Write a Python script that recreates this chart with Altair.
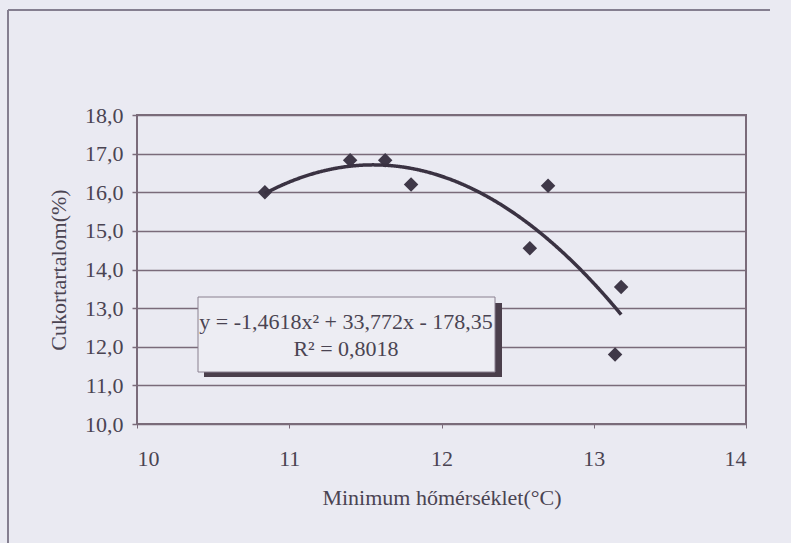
import altair as alt
import pandas as pd

# Minimum temperature (°C) and sugar content (%) of the samples
min_temp = [10.84, 11.40, 11.63, 11.80, 12.58, 12.70, 13.14, 13.18]
sugar = [16.00, 16.83, 16.83, 16.20, 14.55, 16.17, 11.80, 13.55]

# Second-order trend line coefficients (a*x^2 + b*x + c) and fit quality
coef_a, coef_b, coef_c = -1.4618, 33.772, -178.35
r_squared = 0.8018

x_ticks = [10, 11, 12, 13, 14]
y_ticks = [10, 11, 12, 13, 14, 15, 16, 17, 18]

FONT = "Liberation Serif"
INK = "#4a4452"
LINE = "#7a6b7a"
BG = "#eaeaf2"

pts = pd.DataFrame({"x": min_temp, "y": sugar})
one = pd.DataFrame({"k": [0]})  # single row for annotation marks


def hu(v, decimals):
    return f"{v:.{decimals}f}".replace(".", ",")


eq_line1 = f"y = {hu(coef_a, 4)}x² + {hu(coef_b, 3)}x - {hu(-coef_c, 2)}"
eq_line2 = f"R² = {hu(r_squared, 4)}"

x_scale = alt.Scale(domain=[10, 14], nice=False, zero=False)
y_scale = alt.Scale(domain=[10, 18], nice=False, zero=False)

x_axis = alt.Axis(
    values=x_ticks,
    format="d",
    labelOverlap=False,
    title="Minimum hőmérséklet(°C)",
    grid=False,
    domain=False,
    tickSize=4,
    tickColor=LINE,
    labelPadding=20,
    labelFont=FONT,
    labelFontSize=22,
    labelColor=INK,
    titleFont=FONT,
    titleFontSize=22,
    titleFontWeight="normal",
    titleColor=INK,
    titlePadding=18,
)
y_axis = alt.Axis(
    values=y_ticks,
    labelExpr="replace(format(datum.value, '.1f'), '.', ',')",
    labelOverlap=False,
    title="Cukortartalom(%)",
    grid=True,
    gridColor=LINE,
    gridWidth=1.5,
    domain=False,
    tickSize=5,
    tickColor=LINE,
    tickWidth=1.5,
    labelPadding=9,
    labelFont=FONT,
    labelFontSize=22,
    labelColor=INK,
    titleFont=FONT,
    titleFontSize=22,
    titleFontWeight="normal",
    titleColor=INK,
    titlePadding=14,
)

x_enc = alt.X("x:Q", scale=x_scale, axis=x_axis)
y_enc = alt.Y("y:Q", scale=y_scale, axis=y_axis)

points = alt.Chart(pts).mark_point(
    shape="diamond", filled=True, size=210, color="#3f3848", opacity=1
).encode(x=x_enc, y=y_enc)

trend = (
    alt.Chart(alt.sequence(min(min_temp), max(min_temp) + 0.004, 0.005))
    .transform_calculate(
        x="datum.data",
        y=f"({coef_a})*datum.data*datum.data + ({coef_b})*datum.data + ({coef_c})",
    )
    .mark_line(color="#3a3242", strokeWidth=3.5)
    .encode(x=x_enc, y=y_enc)
)

# Equation box with a drop shadow
shadow = alt.Chart(one).mark_rect(color="#4b3f4c").encode(
    x=alt.value(67), x2=alt.value(365), y=alt.value(188), y2=alt.value(262)
)
box = alt.Chart(one).mark_rect(fill="#ededf3", stroke="#8a8090", strokeWidth=1).encode(
    x=alt.value(61), x2=alt.value(358), y=alt.value(182), y2=alt.value(257)
)
label1 = alt.Chart(one).mark_text(
    font=FONT, fontSize=22, color=INK, align="center", baseline="middle"
).encode(x=alt.value(209), y=alt.value(207), text=alt.value(eq_line1))
label2 = alt.Chart(one).mark_text(
    font=FONT, fontSize=22, color=INK, align="center", baseline="middle"
).encode(x=alt.value(209), y=alt.value(234), text=alt.value(eq_line2))

# Chart frame (left and top edges)
frame_left = alt.Chart(one).mark_rule(color="#857f90", strokeWidth=2).encode(
    x=alt.value(-129), y=alt.value(-105), y2=alt.value(430)
)
frame_top = alt.Chart(one).mark_rule(color="#857f90", strokeWidth=2).encode(
    x=alt.value(-129), x2=alt.value(633), y=alt.value(-105)
)

chart = (
    alt.layer(frame_left, frame_top, points, trend, shadow, box, label1, label2)
    .properties(
        width=609,
        height=309,
        background=BG,
        autosize="none",
        padding={"left": 137, "top": 115, "right": 45, "bottom": 119},
    )
    .configure_view(fill=BG, stroke=LINE, strokeWidth=2)
)

chart.save("out.html", embed_options={"renderer": "svg", "actions": False})
